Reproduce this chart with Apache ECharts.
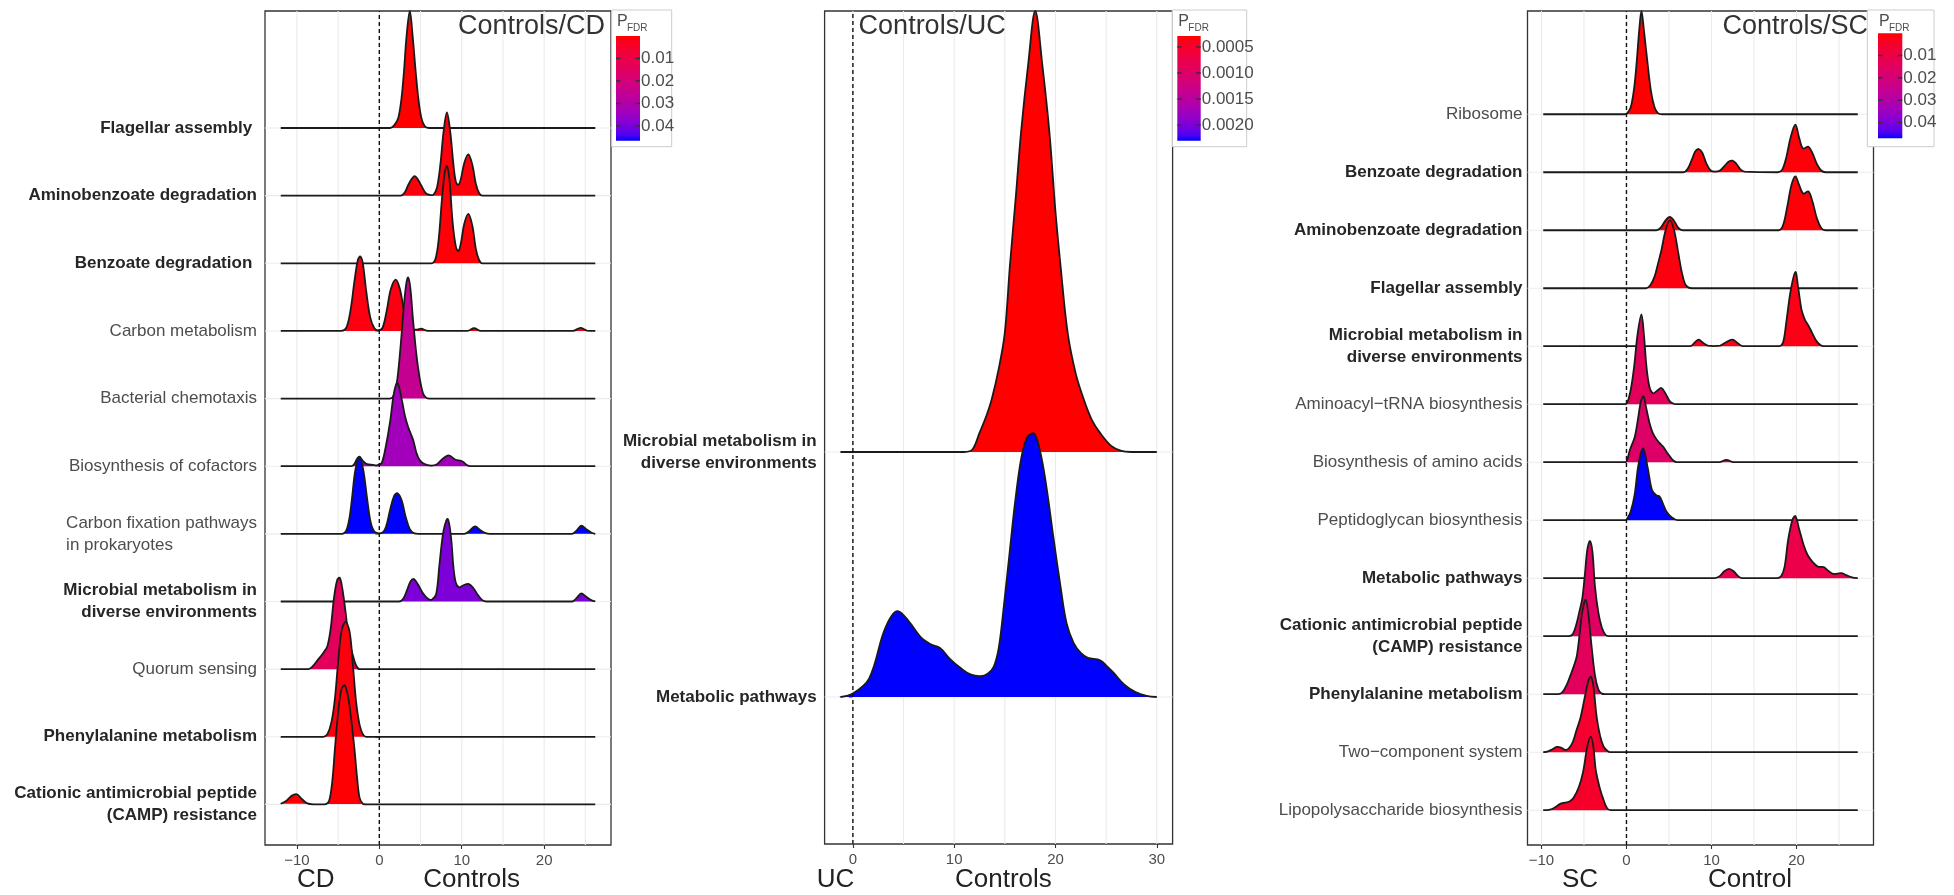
<!DOCTYPE html>
<html>
<head>
<meta charset="utf-8">
<script src="https://cdn.jsdelivr.net/npm/echarts@6/dist/echarts.min.js"></script>
<style>
  html, body { margin: 0; padding: 0; background: #ffffff; }
  #chart { width: 1954px; height: 895px; }
</style>
</head>
<body>
<div id="chart"></div>
<script>
// ---------------- Controls vs CD ----------------
// pathways listed from the top ridge to the bottom ridge
const cdPathways = [
  'Flagellar assembly ', 'Aminobenzoate degradation', 'Benzoate degradation ', 'Carbon metabolism',
  'Bacterial chemotaxis', 'Biosynthesis of cofactors', 'Carbon fixation pathways\nin prokaryotes',
  'Microbial metabolism in\ndiverse environments', 'Quorum sensing', 'Phenylalanine metabolism',
  'Cationic antimicrobial peptide\n(CAMP) resistance'
];
const cdPfdr = [0.0001, 0.0009, 0.0006, 0.0015, 0.025, 0.0334, 0.0465, 0.0393, 0.014, 0.0011, 0.0004];
// density profiles: [log2 fold change, ridge height in row units]
const cdDensity = [
  [[-11.96,0],[1.3,0],[1.8,0.04],[2.3,0.15],[2.7,0.45],[3.0,0.85],[3.3,1.35],[3.7,1.73],[4.05,1.35],[4.4,0.85],[4.75,0.42],[5.1,0.15],[5.5,0.03],[6.0,0],[26.2,0]],
  [[-11.96,0],[2.6,0],[3.1,0.05],[3.6,0.18],[4.3,0.29],[5.0,0.17],[5.6,0.04],[6.1,0.01],[6.6,0.02],[7.0,0.12],[7.4,0.45],[7.8,0.95],[8.2,1.23],[8.6,0.95],[9.0,0.45],[9.3,0.2],[9.6,0.16],[9.9,0.25],[10.3,0.48],[10.8,0.61],[11.3,0.45],[11.7,0.18],[12.1,0.04],[12.5,0],[26.2,0]],
  [[-11.96,0],[6.3,0],[6.8,0.06],[7.2,0.35],[7.6,0.95],[7.95,1.35],[8.2,1.44],[8.5,1.25],[8.9,0.6],[9.3,0.24],[9.6,0.18],[9.9,0.3],[10.3,0.58],[10.8,0.73],[11.3,0.55],[11.7,0.22],[12.1,0.05],[12.5,0],[26.2,0]],
  [[-11.96,0],[-4.6,0],[-4.0,0.05],[-3.5,0.3],[-3.0,0.75],[-2.6,1.05],[-2.3,1.1],[-2.0,1.0],[-1.6,0.6],[-1.1,0.2],[-0.6,0.04],[-0.1,0.01],[0.4,0.05],[0.9,0.3],[1.4,0.62],[2.0,0.76],[2.5,0.62],[3.0,0.3],[3.5,0.1],[4.0,0.03],[4.6,0.02],[5.1,0.035],[5.6,0.01],[6.2,0],[10.7,0],[11.5,0.04],[12.3,0],[23.5,0],[24.4,0.045],[25.2,0.005],[26.2,0]],
  [[-11.96,0],[1.3,0],[1.8,0.06],[2.2,0.3],[2.6,0.8],[3.0,1.4],[3.3,1.72],[3.5,1.79],[3.75,1.65],[4.1,1.15],[4.5,0.65],[4.9,0.3],[5.3,0.08],[5.7,0.01],[6.1,0],[26.2,0]],
  [[-11.96,0],[-3.4,0],[-3.0,0.04],[-2.7,0.11],[-2.4,0.14],[-2.0,0.08],[-1.5,0.03],[-0.8,0.02],[-0.2,0.015],[0.3,0.05],[0.8,0.3],[1.3,0.65],[1.8,1.1],[2.2,1.23],[2.7,1.0],[3.1,0.75],[3.5,0.58],[4.1,0.39],[4.5,0.2],[4.9,0.09],[5.5,0.03],[6.3,0.01],[7.0,0.03],[7.6,0.1],[8.4,0.16],[9.2,0.1],[10.1,0.07],[10.6,0.02],[11.0,0],[26.2,0]],
  [[-11.96,0],[-4.5,0],[-4.0,0.05],[-3.6,0.25],[-3.3,0.54],[-2.9,0.95],[-2.4,1.14],[-1.95,0.95],[-1.5,0.54],[-1.1,0.2],[-0.7,0.05],[-0.2,0.01],[0.4,0.02],[0.8,0.1],[1.3,0.35],[1.8,0.56],[2.2,0.6],[2.7,0.5],[3.2,0.25],[3.7,0.07],[4.2,0.01],[4.8,0],[10.3,0],[10.9,0.04],[11.6,0.11],[12.3,0.05],[12.9,0.01],[13.4,0],[23.4,0],[24.0,0.06],[24.5,0.12],[25.1,0.07],[25.7,0.02],[26.2,0]],
  [[-11.96,0],[2.4,0],[2.9,0.04],[3.4,0.18],[3.8,0.3],[4.2,0.33],[4.7,0.25],[5.3,0.12],[5.9,0.04],[6.4,0.03],[6.9,0.11],[7.3,0.55],[7.8,1.05],[8.3,1.22],[8.7,0.95],[9.0,0.5],[9.3,0.27],[9.7,0.21],[10.2,0.24],[10.8,0.26],[11.4,0.2],[12.0,0.09],[12.5,0.02],[13.0,0],[23.4,0],[24.0,0.06],[24.5,0.12],[25.1,0.07],[25.7,0.02],[26.2,0]],
  [[-11.96,0],[-8.6,0],[-8.1,0.04],[-7.5,0.13],[-6.8,0.24],[-6.3,0.34],[-5.9,0.6],[-5.5,1.05],[-5.1,1.32],[-4.8,1.35],[-4.5,1.2],[-4.1,0.85],[-3.7,0.45],[-3.2,0.2],[-2.8,0.05],[-2.4,0],[26.2,0]],
  [[-11.96,0],[-6.8,0],[-6.3,0.04],[-5.8,0.22],[-5.4,0.55],[-5.0,1.1],[-4.6,1.55],[-4.1,1.70],[-3.6,1.55],[-3.2,1.05],[-2.8,0.5],[-2.4,0.18],[-2.0,0.04],[-1.6,0],[26.2,0]],
  [[-11.96,0.01],[-11.3,0.05],[-10.6,0.13],[-10.0,0.15],[-9.4,0.08],[-8.8,0.02],[-8.0,0],[-6.6,0],[-6.1,0.05],[-5.7,0.35],[-5.4,0.8],[-5.0,1.35],[-4.6,1.7],[-4.2,1.76],[-3.8,1.6],[-3.4,1.25],[-3.0,0.8],[-2.7,0.4],[-2.4,0.1],[-2.0,0.01],[-1.6,0],[26.2,0]]
];
const cdXTicks = [-10, 0, 10, 20];
const cdPTicks = [0.01, 0.02, 0.03, 0.04];
const cdPTickLabels = ['0.01', '0.02', '0.03', '0.04'];

// ---------------- Controls vs UC ----------------
const ucPathways = ['Microbial metabolism in\ndiverse environments', 'Metabolic pathways'];
const ucPfdr = [0.00029, 0.0023];
const ucDensity = [
  [[-1.23,0],[11.0,0],[11.8,0.01],[12.5,0.078],[13.2,0.15],[13.7,0.214],[14.4,0.34],[15.0,0.487],[15.5,0.76],[16.1,1.05],[16.6,1.305],[17.3,1.58],[18.0,1.80],[18.7,1.58],[19.4,1.305],[20.0,0.98],[20.5,0.76],[21.2,0.487],[22.0,0.32],[22.8,0.214],[23.6,0.13],[24.4,0.078],[25.5,0.025],[26.5,0.005],[27.5,0],[30.0,0]],
  [[-1.23,0],[0,0.014],[1.6,0.075],[3.0,0.26],[3.8,0.33],[4.5,0.35],[5.5,0.31],[6.8,0.24],[7.7,0.215],[8.6,0.2],[9.6,0.155],[10.7,0.116],[11.6,0.092],[12.6,0.085],[13.3,0.095],[13.9,0.123],[14.4,0.2],[14.9,0.37],[15.5,0.6],[16.0,0.79],[16.6,0.97],[17.2,1.06],[17.9,1.075],[18.5,1.0],[19.1,0.86],[19.8,0.65],[20.5,0.45],[21.1,0.3],[21.8,0.22],[22.5,0.18],[23.2,0.16],[24.4,0.15],[25.1,0.125],[25.8,0.096],[26.8,0.05],[27.9,0.02],[29.0,0.005],[30.0,0]]
];
const ucXTicks = [0, 10, 20, 30];
const ucPTicks = [0.0005, 0.0010, 0.0015, 0.0020];
const ucPTickLabels = ['0.0005', '0.0010', '0.0015', '0.0020'];

// ---------------- Controls vs SC ----------------
const scPathways = [
  'Ribosome', 'Benzoate degradation', 'Aminobenzoate degradation', 'Flagellar assembly',
  'Microbial metabolism in\ndiverse environments', 'Aminoacyl\u2212tRNA biosynthesis',
  'Biosynthesis of amino acids', 'Peptidoglycan biosynthesis', 'Metabolic pathways',
  'Cationic antimicrobial peptide\n(CAMP) resistance', 'Phenylalanine metabolism',
  'Two\u2212component system', 'Lipopolysaccharide biosynthesis'
];
const scPfdr = [0.0001, 0.0008, 0.0006, 0.0012, 0.002, 0.014, 0.0165, 0.047, 0.0105, 0.0155, 0.014, 0.0057, 0.0048];
const scDensity = [
  [[-9.79,0],[-0.2,0],[0.1,0.02],[0.5,0.12],[0.9,0.45],[1.2,0.9],[1.5,1.45],[1.76,1.78],[2.05,1.45],[2.5,0.85],[2.9,0.38],[3.3,0.12],[3.7,0.02],[4.2,0],[27.2,0]],
  [[-9.79,0],[6.7,0],[7.2,0.06],[7.7,0.22],[8.1,0.36],[8.5,0.40],[8.9,0.34],[9.4,0.15],[9.9,0.03],[10.4,0.01],[11.0,0.03],[11.6,0.12],[12.0,0.18],[12.45,0.2],[12.9,0.15],[13.4,0.05],[13.9,0.01],[17.8,0],[18.3,0.04],[18.8,0.26],[19.3,0.6],[19.86,0.82],[20.3,0.6],[20.75,0.41],[21.4,0.44],[21.9,0.32],[22.4,0.14],[22.9,0.03],[23.4,0],[27.2,0]],
  [[-9.79,0],[3.5,0],[4.0,0.04],[4.6,0.17],[5.1,0.23],[5.6,0.16],[6.1,0.04],[6.6,0],[17.9,0],[18.4,0.08],[18.9,0.4],[19.4,0.78],[19.86,0.93],[20.3,0.78],[20.8,0.63],[21.4,0.67],[21.9,0.48],[22.4,0.2],[22.9,0.04],[23.4,0],[27.2,0]],
  [[-9.79,0],[2.3,0],[2.8,0.05],[3.3,0.2],[3.7,0.42],[4.1,0.65],[4.6,1.0],[5.1,1.17],[5.6,1.0],[6.1,0.6],[6.5,0.28],[6.9,0.07],[7.3,0.01],[7.7,0],[27.2,0]],
  [[-9.79,0],[7.5,0],[8.0,0.06],[8.5,0.115],[9.0,0.06],[9.6,0.01],[11.0,0.01],[11.6,0.06],[12.45,0.115],[13.1,0.05],[13.7,0],[17.9,0],[18.4,0.06],[18.8,0.42],[19.3,0.95],[19.86,1.28],[20.2,1.0],[20.6,0.62],[21.0,0.45],[21.3,0.38],[21.8,0.24],[22.3,0.1],[22.8,0.02],[23.2,0],[27.2,0]],
  [[-9.79,0],[-0.2,0],[0.1,0.03],[0.5,0.25],[0.9,0.65],[1.3,1.2],[1.76,1.55],[2.05,1.2],[2.35,0.65],[2.7,0.3],[3.1,0.19],[3.6,0.23],[4.1,0.28],[4.6,0.18],[5.1,0.05],[5.6,0.005],[6.0,0],[27.2,0]],
  [[-9.79,0],[-0.1,0],[0.1,0.05],[0.4,0.21],[0.98,0.44],[1.4,0.79],[1.7,1.05],[2.0,1.135],[2.3,0.95],[2.7,0.68],[3.1,0.5],[3.5,0.4],[3.9,0.33],[4.3,0.27],[4.7,0.18],[5.1,0.1],[5.5,0.03],[5.9,0],[10.9,0],[11.75,0.04],[12.6,0],[27.2,0]],
  [[-9.79,0],[-0.1,0],[0.1,0.03],[0.5,0.15],[0.98,0.46],[1.4,0.95],[1.96,1.24],[2.5,0.9],[3.0,0.52],[3.5,0.43],[3.9,0.41],[4.3,0.28],[4.7,0.15],[5.3,0.05],[6.0,0],[27.2,0]],
  [[-9.79,0],[10.4,0],[11.0,0.04],[11.5,0.12],[12.06,0.16],[12.6,0.12],[13.1,0.04],[13.6,0],[17.7,0],[18.2,0.04],[18.6,0.2],[19.0,0.65],[19.5,1.0],[19.86,1.07],[20.3,0.85],[20.8,0.59],[21.3,0.4],[21.9,0.28],[22.5,0.2],[23.2,0.19],[23.8,0.12],[24.3,0.075],[24.8,0.08],[25.3,0.087],[25.9,0.05],[26.5,0.015],[27.2,0]],
  [[-9.79,0],[-6.8,0],[-6.3,0.04],[-5.9,0.2],[-5.5,0.45],[-5.2,0.65],[-4.9,1.05],[-4.6,1.5],[-4.3,1.64],[-4.0,1.45],[-3.7,0.85],[-3.3,0.4],[-2.9,0.15],[-2.5,0.03],[-2.1,0],[27.2,0]],
  [[-9.79,0],[-8.0,0],[-7.5,0.04],[-7.0,0.17],[-6.6,0.32],[-6.2,0.48],[-5.85,0.65],[-5.5,1.05],[-5.2,1.42],[-4.8,1.63],[-4.5,1.4],[-4.1,0.82],[-3.7,0.32],[-3.3,0.08],[-2.9,0.01],[-2.5,0],[27.2,0]],
  [[-9.79,0],[-9.3,0.01],[-8.7,0.05],[-8.2,0.09],[-7.7,0.08],[-7.2,0.04],[-6.8,0.06],[-6.3,0.18],[-5.9,0.37],[-5.4,0.6],[-4.9,0.95],[-4.5,1.22],[-4.2,1.30],[-3.9,1.15],[-3.5,0.6],[-3.1,0.28],[-2.7,0.1],[-2.3,0.03],[-1.9,0],[27.2,0]],
  [[-9.79,0],[-9.0,0.01],[-8.4,0.05],[-7.8,0.11],[-7.25,0.13],[-6.7,0.15],[-6.2,0.22],[-5.6,0.4],[-5.1,0.66],[-4.6,1.1],[-4.2,1.27],[-3.9,1.1],[-3.6,0.68],[-3.1,0.36],[-2.7,0.18],[-2.3,0.04],[-1.9,0],[27.2,0]]
];
const scXTicks = [-10, 0, 10, 20];
const scPTicks = [0.01, 0.02, 0.03, 0.04];
const scPTickLabels = ['0.01', '0.02', '0.03', '0.04'];

// ---------------- panel texts ----------------
const panelTitles = ['Controls/CD', 'Controls/UC', 'Controls/SC'];
const groupNames = [['CD', 'Controls'], ['UC', 'Controls'], ['SC', 'Control']];

// ---------------- styling ----------------
const FONT = '"Liberation Sans", Arial, Helvetica, sans-serif';
const BOLD_PATHWAYS = new Set([
  'Flagellar assembly', 'Aminobenzoate degradation', 'Benzoate degradation',
  'Microbial metabolism in\ndiverse environments', 'Phenylalanine metabolism',
  'Cationic antimicrobial peptide\n(CAMP) resistance', 'Metabolic pathways'
]);
const LEFT_WRAPPED = new Set(['Carbon fixation pathways\nin prokaryotes']);

const layout = [
  { grid: { left: 265, top: 11, width: 346, height: 834 }, labelMargin: 8,
    title: { x: 605, align: 'right' }, names: [315.7, 471.7],
    legend: { box: [611.7, 10, 60, 136.7], bar: [616, 36, 24, 104.7], px: 617 } },
  { grid: { left: 824.6, top: 11, width: 348, height: 833 }, labelMargin: 8,
    title: { x: 858.6, align: 'left' }, names: [835.5, 1003.4],
    legend: { box: [1172.3, 10, 74.4, 136.7], bar: [1177.3, 36, 23.4, 104.7], px: 1178.3 } },
  { grid: { left: 1527.5, top: 11, width: 346, height: 834 }, labelMargin: 5,
    title: { x: 1868, align: 'right' }, names: [1580, 1750],
    legend: { box: [1867.3, 10, 66.7, 136.7], bar: [1878, 33.3, 24.3, 105], px: 1879 } }
];

// ---------------- colour scale (CIELAB ramp red -> blue) ----------------
const WHITE = [0.95047, 1.0, 1.08883];
function toLinear(c) { c /= 255; return c <= 0.04045 ? c / 12.92 : Math.pow((c + 0.055) / 1.055, 2.4); }
function toSrgb(c) {
  c = c <= 0.0031308 ? 12.92 * c : 1.055 * Math.pow(c, 1 / 2.4) - 0.055;
  return Math.round(Math.max(0, Math.min(1, c)) * 255);
}
function rgbToLab(rgb) {
  const [r, g, b] = rgb.map(toLinear);
  const x = (0.4124564 * r + 0.3575761 * g + 0.1804375 * b) / WHITE[0];
  const y = (0.2126729 * r + 0.7151522 * g + 0.0721750 * b) / WHITE[1];
  const z = (0.0193339 * r + 0.1191920 * g + 0.9503041 * b) / WHITE[2];
  const f = t => t > 216 / 24389 ? Math.cbrt(t) : (24389 / 27 * t + 16) / 116;
  const fx = f(x), fy = f(y), fz = f(z);
  return [116 * fy - 16, 500 * (fx - fy), 200 * (fy - fz)];
}
function labToRgb(lab) {
  const fy = (lab[0] + 16) / 116, fx = fy + lab[1] / 500, fz = fy - lab[2] / 200;
  const inv = t => (t * t * t > 216 / 24389 ? t * t * t : (116 * t - 16) / (24389 / 27));
  const x = inv(fx) * WHITE[0], y = inv(fy) * WHITE[1], z = inv(fz) * WHITE[2];
  return [
    toSrgb(3.2404542 * x - 1.5371385 * y - 0.4985314 * z),
    toSrgb(-0.9692660 * x + 1.8760108 * y + 0.0415560 * z),
    toSrgb(0.0556434 * x - 0.2040259 * y + 1.0572252 * z)
  ];
}
const LOW = rgbToLab([255, 0, 0]);
const HIGH = rgbToLab([0, 0, 255]);
function rampColor(t) {
  t = Math.max(0, Math.min(1, t));
  const lab = LOW.map((v, k) => v + (HIGH[k] - v) * t);
  const c = labToRgb(lab);
  return 'rgb(' + c.join(',') + ')';
}

// ---------------- assemble ----------------
const panels = [
  { pathways: cdPathways, pfdr: cdPfdr, density: cdDensity, xTicks: cdXTicks, pTicks: cdPTicks, pTickLabels: cdPTickLabels },
  { pathways: ucPathways, pfdr: ucPfdr, density: ucDensity, xTicks: ucXTicks, pTicks: ucPTicks, pTickLabels: ucPTickLabels },
  { pathways: scPathways, pfdr: scPfdr, density: scDensity, xTicks: scXTicks, pTicks: scPTicks, pTickLabels: scPTickLabels }
];

const grids = [], xAxes = [], yAxes = [], series = [], graphics = [];

panels.forEach((p, pi) => {
  const L = layout[pi];
  const n = p.pathways.length;
  // x range: data span plus 5% on each side
  let lo = Infinity, hi = -Infinity;
  p.density.forEach(d => { lo = Math.min(lo, d[0][0]); hi = Math.max(hi, d[d.length - 1][0]); });
  const pad = (hi - lo) * 0.05;
  const xMin = lo - pad, xMax = hi + pad;
  // y range: rows 1..n (bottom to top), 0.6 row below, tallest ridge on top
  let yMax = 0;
  p.density.forEach((d, i) => { const row = n - i; d.forEach(pt => { yMax = Math.max(yMax, row + pt[1]); }); });
  const yMin = 0.4;
  const rows = p.pathways.map((_, i) => n - i);
  const pMin = Math.min(...p.pfdr), pMax = Math.max(...p.pfdr);

  grids.push(Object.assign({ show: true, borderColor: '#333333', borderWidth: 1.3, backgroundColor: 'transparent', containLabel: false }, L.grid));

  xAxes.push({
    type: 'value', gridIndex: pi, min: xMin, max: xMax,
    axisLine: { show: false }, splitLine: { show: false },
    axisTick: { show: true, customValues: p.xTicks, length: 4, lineStyle: { color: '#333333', width: 1.1 } },
    axisLabel: {
      customValues: p.xTicks, color: '#4d4d4d', fontSize: 15, margin: 8, fontFamily: FONT,
      formatter: v => (v < 0 ? '\u2212' + Math.abs(v) : String(v))
    }
  });

  yAxes.push({
    type: 'value', gridIndex: pi, min: yMin, max: yMax,
    axisLine: { show: false }, splitLine: { show: false },
    axisTick: { show: true, customValues: rows, length: 4, lineStyle: { color: '#333333', width: 1.1 } },
    axisLabel: {
      customValues: rows, margin: L.labelMargin, fontFamily: FONT,
      formatter: v => {
        const name = p.pathways[n - Math.round(v)];
        const key = name.trim();
        const lines = name.split('\n');
        if (LEFT_WRAPPED.has(key)) return lines.map((s, k) => (k === 0 ? '{n|' + s + '}' : '{nl|' + s + '}')).join('\n');
        const tag = BOLD_PATHWAYS.has(key) ? 'b' : 'n';
        return lines.map(s => '{' + tag + '|' + s + '}').join('\n');
      },
      rich: {
        n: { fontSize: 17, color: '#4d4d4d', fontFamily: FONT, lineHeight: 22 },
        nl: { fontSize: 17, color: '#4d4d4d', fontFamily: FONT, lineHeight: 22, align: 'left' },
        b: { fontSize: 17, color: '#262626', fontWeight: 'bold', fontFamily: FONT, lineHeight: 22 }
      }
    }
  });

  // background grid: vertical lines every 5 units, horizontal line at each ridge baseline
  const gridX = [];
  for (let v = Math.ceil(xMin / 5) * 5; v <= xMax; v += 5) gridX.push(v);
  series.push({
    type: 'custom', xAxisIndex: pi, yAxisIndex: pi, silent: true, z: 1,
    data: gridX.map(v => [v, yMin]),
    renderItem: (params, api) => {
      const a = api.coord([api.value(0), yMin]), b = api.coord([api.value(0), yMax]);
      return { type: 'line', shape: { x1: a[0], y1: a[1], x2: b[0], y2: b[1] }, style: { stroke: '#ebebeb', lineWidth: 1.1 } };
    }
  });
  series.push({
    type: 'custom', xAxisIndex: pi, yAxisIndex: pi, silent: true, z: 1,
    data: rows.map(r => [xMin, r]),
    renderItem: (params, api) => {
      const a = api.coord([xMin, api.value(1)]), b = api.coord([xMax, api.value(1)]);
      return { type: 'line', shape: { x1: a[0], y1: a[1], x2: b[0], y2: b[1] }, style: { stroke: '#ebebeb', lineWidth: 1.1 } };
    }
  });

  // ridges, drawn from the top row down so lower ridges overlap upper ones
  series.push({
    type: 'custom', xAxisIndex: pi, yAxisIndex: pi, silent: true, z: 2,
    data: p.pathways.map((_, i) => [p.density[i][0][0], n - i]),
    encode: { x: 0, y: 1 },
    renderItem: (params, api) => {
      const i = params.dataIndex;
      const row = n - i;
      const pts = p.density[i].map(pt => api.coord([pt[0], row + pt[1]]));
      const base = api.coord([xMin, row])[1];
      const cs = params.coordSys;
      const box = [[cs.x - 5, cs.y - 50], [cs.x + cs.width + 5, base]];
      const fill = rampColor((p.pfdr[i] - pMin) / (pMax - pMin || 1));
      return {
        type: 'group',
        children: [
          { type: 'polygon', z2: i * 2, shape: { points: pts, smooth: 0.35, smoothConstraint: box },
            style: { fill: fill, stroke: null } },
          { type: 'polyline', z2: i * 2 + 1, shape: { points: pts, smooth: 0.35, smoothConstraint: box },
            style: { fill: null, stroke: '#1a1a1a', lineWidth: 1.8, lineJoin: 'round' } }
        ]
      };
    }
  });

  // dashed reference line at zero
  series.push({
    type: 'custom', xAxisIndex: pi, yAxisIndex: pi, silent: true, z: 3,
    data: [[0, yMin]],
    renderItem: (params, api) => {
      const a = api.coord([0, yMin]), b = api.coord([0, yMax]);
      return { type: 'line', shape: { x1: a[0], y1: a[1], x2: b[0], y2: b[1] },
        style: { stroke: '#111111', lineWidth: 1.4, lineDash: [4, 3] } };
    }
  });

  // panel title
  graphics.push({
    type: 'text', x: L.title.x, y: 27, z: 50,
    style: { text: panelTitles[pi], fontSize: 27, fill: '#333333', fontFamily: FONT,
      textAlign: L.title.align, textVerticalAlign: 'middle' }
  });
  // group names under the x axis
  groupNames[pi].forEach((t, k) => {
    graphics.push({
      type: 'text', x: L.names[k], y: 880, z: 50,
      style: { text: t, fontSize: 26, fill: '#222222', fontFamily: FONT, textAlign: 'center', textVerticalAlign: 'middle' }
    });
  });

  // colour bar legend
  const lg = L.legend;
  const [bx, by, bw, bh] = lg.bar;
  const stops = [];
  for (let k = 0; k <= 20; k++) stops.push({ offset: k / 20, color: rampColor(k / 20) });
  graphics.push({
    type: 'rect', z: 60, shape: { x: lg.box[0], y: lg.box[1], width: lg.box[2], height: lg.box[3] },
    style: { fill: '#ffffff', stroke: '#cccccc', lineWidth: 1 }
  });
  graphics.push({
    type: 'rect', z: 61, shape: { x: bx, y: by, width: bw, height: bh },
    style: { fill: new echarts.graphic.LinearGradient(0, 0, 0, 1, stops) }
  });
  graphics.push({
    type: 'text', x: lg.px, y: 21.5, z: 62,
    style: { text: 'P', fontSize: 16, fill: '#4d4d4d', fontFamily: FONT, textVerticalAlign: 'middle' }
  });
  graphics.push({
    type: 'text', x: lg.px + 10, y: 28, z: 62,
    style: { text: 'FDR', fontSize: 10, fill: '#4d4d4d', fontFamily: FONT, textVerticalAlign: 'middle' }
  });
  p.pTicks.forEach((t, k) => {
    const y = by + (t - pMin) / (pMax - pMin) * bh;
    graphics.push({ type: 'line', z: 62, shape: { x1: bx, y1: y, x2: bx + 4.5, y2: y }, style: { stroke: '#333333', lineWidth: 1.5 } });
    graphics.push({ type: 'line', z: 62, shape: { x1: bx + bw - 4.5, y1: y, x2: bx + bw, y2: y }, style: { stroke: '#333333', lineWidth: 1.5 } });
    graphics.push({
      type: 'text', x: bx + bw + 1, y: y, z: 62,
      style: { text: p.pTickLabels[k], fontSize: 17, fill: '#4d4d4d', fontFamily: FONT, textVerticalAlign: 'middle' }
    });
  });
});

const chart = echarts.init(document.getElementById('chart'), null, { renderer: 'canvas', width: 1954, height: 895 });
chart.setOption({
  animation: false,
  backgroundColor: '#ffffff',
  textStyle: { fontFamily: FONT },
  grid: grids,
  xAxis: xAxes,
  yAxis: yAxes,
  series: series,
  graphic: graphics
});
</script>
</body>
</html>
